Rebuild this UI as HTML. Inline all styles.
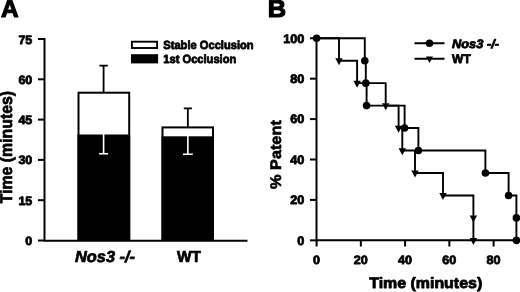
<!DOCTYPE html>
<html><head><meta charset="utf-8"><title>Figure</title>
<style>
html,body{margin:0;padding:0;background:#fff;}
body{width:520px;height:292px;overflow:hidden;}
svg{display:block;}
text{text-rendering:geometricPrecision;font-family:"Liberation Sans",Arial,Helvetica,sans-serif;font-weight:bold;fill:#000;stroke:#000;stroke-width:0.8px;stroke-linejoin:round;}
</style></head><body>
<svg width="520" height="292" viewBox="0 0 520 292">
<rect width="520" height="292" fill="#fff"/>

<g id="panelA">
<text x="0.9" y="16.6" font-size="24.4" style="stroke-width:1.1px">A</text>
<rect x="78.5" y="92.7" width="50.7" height="147" fill="#fff" stroke="#000" stroke-width="2"/>
<rect x="77.5" y="134.5" width="52.7" height="106.5" fill="#000"/>
<rect x="162.5" y="127.4" width="50.5" height="112" fill="#fff" stroke="#000" stroke-width="2"/>
<rect x="161.5" y="136.3" width="52.5" height="104.7" fill="#000"/>
<path d="M103.6 92.7V65.6M99.4 65.6H107.8" stroke="#000" stroke-width="1.8" fill="none"/>
<path d="M187.85 127.4V108.4M183.8 108.4H191.9" stroke="#000" stroke-width="1.8" fill="none"/>
<path d="M103.6 134V153.7M99.1 153.7H108.1" stroke="#fff" stroke-width="1.6" fill="none"/>
<path d="M187.85 136V154.2M183 154.2H192.8" stroke="#fff" stroke-width="1.6" fill="none"/>
<path d="M44.5 38.05V241.6M43.5 240.65H247.5" stroke="#000" stroke-width="2.0" fill="none"/>
<path d="M38 39.00H45" stroke="#000" stroke-width="2.0"/>
<text transform="translate(32.3 43.50) scale(1.03 1)" font-size="12.1" text-anchor="end">75</text>
<path d="M38 79.30H45" stroke="#000" stroke-width="2.0"/>
<text transform="translate(32.3 83.80) scale(1.03 1)" font-size="12.1" text-anchor="end">60</text>
<path d="M38 119.60H45" stroke="#000" stroke-width="2.0"/>
<text transform="translate(32.3 124.10) scale(1.03 1)" font-size="12.1" text-anchor="end">45</text>
<path d="M38 159.90H45" stroke="#000" stroke-width="2.0"/>
<text transform="translate(32.3 164.40) scale(1.03 1)" font-size="12.1" text-anchor="end">30</text>
<path d="M38 200.20H45" stroke="#000" stroke-width="2.0"/>
<text transform="translate(32.3 204.70) scale(1.03 1)" font-size="12.1" text-anchor="end">15</text>
<path d="M38 240.50H45" stroke="#000" stroke-width="2.0"/>
<text transform="translate(32.3 245.00) scale(1.03 1)" font-size="12.1" text-anchor="end">0</text>
<text transform="translate(11.8 147.1) rotate(-90)" font-size="17" style="stroke-width:0.7px" text-anchor="middle" textLength="112.3" lengthAdjust="spacingAndGlyphs">Time (minutes)</text>
<text x="105" y="261.5" font-size="15.9" style="stroke-width:0.7px" font-style="italic" text-anchor="middle" textLength="60" lengthAdjust="spacingAndGlyphs">Nos3 -/-</text>
<text x="189" y="261.5" font-size="15.9" style="stroke-width:0.7px" text-anchor="middle" textLength="24" lengthAdjust="spacingAndGlyphs">WT</text>
<rect x="131.9" y="41.7" width="25.2" height="6.3" fill="#fff" stroke="#000" stroke-width="1.9"/>
<rect x="131" y="54.2" width="27.1" height="9.2" fill="#000"/>
<text x="163.3" y="48.6" font-size="11.8" textLength="90.3" lengthAdjust="spacingAndGlyphs">Stable Occlusion</text>
<text x="163.3" y="63.2" font-size="11.8" textLength="73" lengthAdjust="spacingAndGlyphs">1st Occlusion</text>
</g>
<g id="panelB">
<text x="267.7" y="17.3" font-size="24.4" textLength="18.4" lengthAdjust="spacingAndGlyphs" style="stroke-width:1.1px">B</text>
<path d="M316.5 37.4V241.3M315.55 240.35H517" stroke="#000" stroke-width="2.0" fill="none"/>
<path d="M310 38.25H316.6" stroke="#000" stroke-width="2.0"/>
<text transform="translate(304.3 42.65) scale(1.04 1)" font-size="12.2" text-anchor="end">100</text>
<path d="M310 78.67H316.6" stroke="#000" stroke-width="2.0"/>
<text transform="translate(304.3 83.07) scale(1.04 1)" font-size="12.2" text-anchor="end">80</text>
<path d="M310 119.09H316.6" stroke="#000" stroke-width="2.0"/>
<text transform="translate(304.3 123.49) scale(1.04 1)" font-size="12.2" text-anchor="end">60</text>
<path d="M310 159.51H316.6" stroke="#000" stroke-width="2.0"/>
<text transform="translate(304.3 163.91) scale(1.04 1)" font-size="12.2" text-anchor="end">40</text>
<path d="M310 199.93H316.6" stroke="#000" stroke-width="2.0"/>
<text transform="translate(304.3 204.33) scale(1.04 1)" font-size="12.2" text-anchor="end">20</text>
<path d="M310 240.35H316.6" stroke="#000" stroke-width="2.0"/>
<text transform="translate(304.3 244.75) scale(1.04 1)" font-size="12.2" text-anchor="end">0</text>
<path d="M316.60 240.35V246.5" stroke="#000" stroke-width="2.0"/>
<text transform="translate(316.60 263.5) scale(1.04 1)" font-size="12.1" text-anchor="middle">0</text>
<path d="M360.85 240.35V246.5" stroke="#000" stroke-width="2.0"/>
<text transform="translate(360.85 263.5) scale(1.04 1)" font-size="12.1" text-anchor="middle">20</text>
<path d="M405.10 240.35V246.5" stroke="#000" stroke-width="2.0"/>
<text transform="translate(405.10 263.5) scale(1.04 1)" font-size="12.1" text-anchor="middle">40</text>
<path d="M449.35 240.35V246.5" stroke="#000" stroke-width="2.0"/>
<text transform="translate(449.35 263.5) scale(1.04 1)" font-size="12.1" text-anchor="middle">60</text>
<path d="M493.60 240.35V246.5" stroke="#000" stroke-width="2.0"/>
<text transform="translate(493.60 263.5) scale(1.04 1)" font-size="12.1" text-anchor="middle">80</text>
<text x="369.2" y="287.8" font-size="15.1" style="stroke-width:0.8px" textLength="113" lengthAdjust="spacingAndGlyphs">Time (minutes)</text>
<text transform="translate(281.3 154.6) rotate(-90)" font-size="15.4" style="stroke-width:0.6px" text-anchor="middle" textLength="68.8" lengthAdjust="spacingAndGlyphs">% Patent</text>
<path d="M316.6 38.25H339.0V60.71H357.1V83.16H385.7V105.62H398.6V128.07H402.3V150.53H415V172.98H443V195.44H473.4V217.89H473.4V240.35" stroke="#000" stroke-width="1.9" fill="none" stroke-linejoin="miter"/>
<path d="M335.30 58.31H342.70L339.00 65.31Z" fill="#000"/>
<path d="M353.40 80.76H360.80L357.10 87.76Z" fill="#000"/>
<path d="M382.00 103.22H389.40L385.70 110.22Z" fill="#000"/>
<path d="M394.90 125.67H402.30L398.60 132.67Z" fill="#000"/>
<path d="M398.60 148.13H406.00L402.30 155.13Z" fill="#000"/>
<path d="M411.30 170.58H418.70L415.00 177.58Z" fill="#000"/>
<path d="M439.30 193.04H446.70L443.00 200.04Z" fill="#000"/>
<path d="M469.70 215.49H477.10L473.40 222.49Z" fill="#000"/>
<path d="M469.70 237.95H477.10L473.40 244.95Z" fill="#000"/>
<path d="M316.6 38.25H364.8V60.71H365.8V83.16H366.6V105.62H404.6V128.07H418.4V150.53H485.4V172.98H508.6V195.44H516.4V217.89H516.4V240.35" stroke="#000" stroke-width="1.9" fill="none" stroke-linejoin="miter"/>
<circle cx="316.6" cy="38.25" r="3.8" fill="#000"/>
<circle cx="364.8" cy="60.71" r="3.8" fill="#000"/>
<circle cx="365.8" cy="83.16" r="3.8" fill="#000"/>
<circle cx="366.6" cy="105.62" r="3.8" fill="#000"/>
<circle cx="404.6" cy="128.07" r="3.8" fill="#000"/>
<circle cx="418.4" cy="150.53" r="3.8" fill="#000"/>
<circle cx="485.4" cy="172.98" r="3.8" fill="#000"/>
<circle cx="508.6" cy="195.44" r="3.8" fill="#000"/>
<circle cx="516.4" cy="217.89" r="3.8" fill="#000"/>
<circle cx="516.4" cy="240.35" r="3.8" fill="#000"/>
<path d="M414.5 43.3H444.5M414.5 58.8H444.5" stroke="#000" stroke-width="1.9"/>
<circle cx="429.5" cy="43.3" r="3.8" fill="#000"/>
<path d="M426 56.6H433L429.5 63Z" fill="#000"/>
<text x="452" y="47.6" font-size="12.3" font-style="italic" textLength="47" lengthAdjust="spacingAndGlyphs">Nos3 -/-</text>
<text x="452.1" y="63.0" font-size="12.6" textLength="18.7" lengthAdjust="spacingAndGlyphs">WT</text>
</g>
</svg>
</body></html>
